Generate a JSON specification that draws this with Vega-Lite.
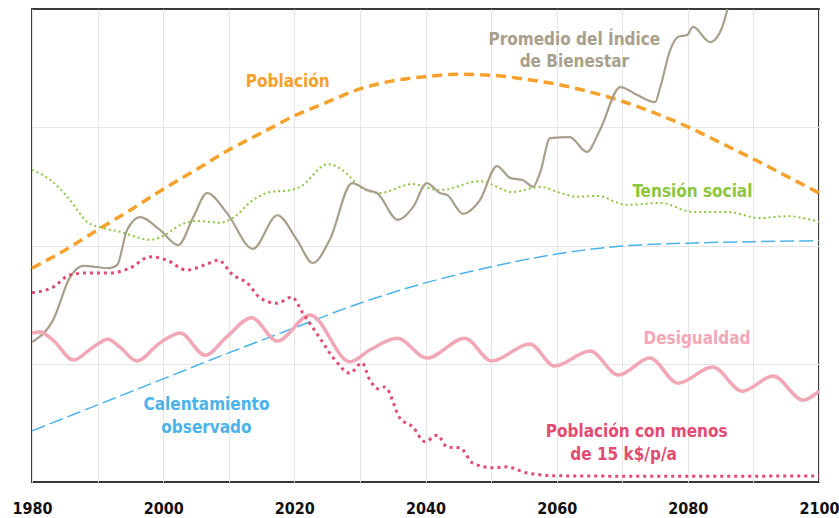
{
  "$schema": "https://vega.github.io/schema/vega-lite/v6.json",
  "width": 787,
  "height": 473,
  "autosize": {"type": "none"},
  "padding": {"left": 32, "top": 9, "right": 20, "bottom": 36},
  "background": "white",
  "config": {"view": {"stroke": "#3a3a3a", "strokeWidth": 2}, "font": "DejaVu Sans Condensed, Roboto, sans-serif"},
  "datasets": {
    "lines": [
      {"s": "pob", "year": 1980, "v": 45.2}, {"s": "pob", "year": 1985, "v": 49.0}, {"s": "pob", "year": 1990, "v": 53.3}, {"s": "pob", "year": 1995, "v": 57.5}, {"s": "pob", "year": 2000, "v": 61.9}, {"s": "pob", "year": 2005, "v": 66.0}, {"s": "pob", "year": 2010, "v": 70.2}, {"s": "pob", "year": 2015, "v": 73.8}, {"s": "pob", "year": 2020, "v": 77.4}, {"s": "pob", "year": 2025, "v": 80.3}, {"s": "pob", "year": 2030, "v": 83.1}, {"s": "pob", "year": 2035, "v": 84.8}, {"s": "pob", "year": 2040, "v": 85.7}, {"s": "pob", "year": 2045, "v": 86.2}, {"s": "pob", "year": 2050, "v": 86.0}, {"s": "pob", "year": 2055, "v": 85.2}, {"s": "pob", "year": 2060, "v": 84.1}, {"s": "pob", "year": 2065, "v": 82.5}, {"s": "pob", "year": 2070, "v": 80.5}, {"s": "pob", "year": 2075, "v": 78.0}, {"s": "pob", "year": 2080, "v": 75.1}, {"s": "pob", "year": 2085, "v": 71.7}, {"s": "pob", "year": 2090, "v": 68.3}, {"s": "pob", "year": 2095, "v": 64.7}, {"s": "pob", "year": 2100, "v": 61.1},

      {"s": "cal", "year": 1980, "v": 10.8}, {"s": "cal", "year": 1990, "v": 16.3}, {"s": "cal", "year": 2000, "v": 21.8}, {"s": "cal", "year": 2010, "v": 27.3}, {"s": "cal", "year": 2020, "v": 32.6}, {"s": "cal", "year": 2030, "v": 37.8}, {"s": "cal", "year": 2040, "v": 42.1}, {"s": "cal", "year": 2050, "v": 45.5}, {"s": "cal", "year": 2060, "v": 48.2}, {"s": "cal", "year": 2070, "v": 49.9}, {"s": "cal", "year": 2080, "v": 50.5}, {"s": "cal", "year": 2090, "v": 50.8}, {"s": "cal", "year": 2100, "v": 51.0},

      {"s": "ten", "year": 1980, "v": 66.0}, {"s": "ten", "year": 1983.2, "v": 63.4}, {"s": "ten", "year": 1985.8, "v": 59.6}, {"s": "ten", "year": 1988.4, "v": 55.0}, {"s": "ten", "year": 1990.8, "v": 53.7}, {"s": "ten", "year": 1993.4, "v": 52.9}, {"s": "ten", "year": 1998, "v": 51.2}, {"s": "ten", "year": 2000, "v": 52.0}, {"s": "ten", "year": 2002.6, "v": 54.3}, {"s": "ten", "year": 2005.2, "v": 55.2}, {"s": "ten", "year": 2008.7, "v": 54.8}, {"s": "ten", "year": 2010.6, "v": 55.8}, {"s": "ten", "year": 2013.7, "v": 59.6}, {"s": "ten", "year": 2016.3, "v": 61.3}, {"s": "ten", "year": 2019.4, "v": 61.7}, {"s": "ten", "year": 2020.9, "v": 62.4}, {"s": "ten", "year": 2025.1, "v": 67.2}, {"s": "ten", "year": 2028, "v": 65.2}, {"s": "ten", "year": 2030, "v": 62.4}, {"s": "ten", "year": 2033, "v": 61.1}, {"s": "ten", "year": 2038, "v": 63.0}, {"s": "ten", "year": 2042.2, "v": 61.7}, {"s": "ten", "year": 2048.3, "v": 63.6}, {"s": "ten", "year": 2053.3, "v": 61.3}, {"s": "ten", "year": 2057.5, "v": 62.4}, {"s": "ten", "year": 2060.6, "v": 61.1}, {"s": "ten", "year": 2063.1, "v": 60.3}, {"s": "ten", "year": 2066.1, "v": 60.5}, {"s": "ten", "year": 2070.7, "v": 58.6}, {"s": "ten", "year": 2075.8, "v": 59.0}, {"s": "ten", "year": 2080.8, "v": 57.1}, {"s": "ten", "year": 2086, "v": 57.1}, {"s": "ten", "year": 2091, "v": 55.8}, {"s": "ten", "year": 2095.1, "v": 56.2}, {"s": "ten", "year": 2100, "v": 55.0},

      {"s": "bien", "year": 1980, "v": 29.6}, {"s": "bien", "year": 1983.2, "v": 34.2}, {"s": "bien", "year": 1985.8, "v": 43.3}, {"s": "bien", "year": 1987.8, "v": 45.7}, {"s": "bien", "year": 1991.9, "v": 45.2}, {"s": "bien", "year": 1993, "v": 45.9}, {"s": "bien", "year": 1994.5, "v": 53.3}, {"s": "bien", "year": 1996.5, "v": 56.0}, {"s": "bien", "year": 1999.5, "v": 53.3}, {"s": "bien", "year": 2002.3, "v": 50.1}, {"s": "bien", "year": 2004.6, "v": 56.0}, {"s": "bien", "year": 2006.7, "v": 61.1}, {"s": "bien", "year": 2009.7, "v": 56.9}, {"s": "bien", "year": 2013.7, "v": 49.3}, {"s": "bien", "year": 2017.4, "v": 56.4}, {"s": "bien", "year": 2020.4, "v": 51.2}, {"s": "bien", "year": 2022.8, "v": 46.3}, {"s": "bien", "year": 2025.4, "v": 51.2}, {"s": "bien", "year": 2028.8, "v": 63.2}, {"s": "bien", "year": 2031.1, "v": 61.7}, {"s": "bien", "year": 2032.6, "v": 61.1}, {"s": "bien", "year": 2035.8, "v": 55.4}, {"s": "bien", "year": 2038.1, "v": 58.1}, {"s": "bien", "year": 2040.2, "v": 63.2}, {"s": "bien", "year": 2042.2, "v": 61.1}, {"s": "bien", "year": 2043.3, "v": 60.7}, {"s": "bien", "year": 2045.7, "v": 56.7}, {"s": "bien", "year": 2048.3, "v": 59.6}, {"s": "bien", "year": 2050.9, "v": 66.8}, {"s": "bien", "year": 2052.9, "v": 64.3}, {"s": "bien", "year": 2054.9, "v": 63.8}, {"s": "bien", "year": 2056.4, "v": 62.4}, {"s": "bien", "year": 2057.5, "v": 65.5}, {"s": "bien", "year": 2059, "v": 72.7}, {"s": "bien", "year": 2062, "v": 72.9}, {"s": "bien", "year": 2064.6, "v": 69.8}, {"s": "bien", "year": 2066.6, "v": 74.4}, {"s": "bien", "year": 2069.7, "v": 83.5}, {"s": "bien", "year": 2072.3, "v": 81.8}, {"s": "bien", "year": 2075, "v": 80.3}, {"s": "bien", "year": 2075.8, "v": 83.5}, {"s": "bien", "year": 2077.3, "v": 91.3}, {"s": "bien", "year": 2078.5, "v": 94.1}, {"s": "bien", "year": 2079.9, "v": 94.5}, {"s": "bien", "year": 2080.8, "v": 96.2}, {"s": "bien", "year": 2083.4, "v": 93.0}, {"s": "bien", "year": 2084.5, "v": 94.1}, {"s": "bien", "year": 2086, "v": 99.8}, {"s": "bien", "year": 2087.5, "v": 112},

      {"s": "des", "year": 1980, "v": 31.5}, {"s": "des", "year": 1981.2, "v": 31.7}, {"s": "des", "year": 1983.2, "v": 30.0}, {"s": "des", "year": 1986.3, "v": 25.8}, {"s": "des", "year": 1989.3, "v": 28.5}, {"s": "des", "year": 1991.6, "v": 30.2}, {"s": "des", "year": 1993.4, "v": 28.5}, {"s": "des", "year": 1996, "v": 25.6}, {"s": "des", "year": 1999.5, "v": 29.4}, {"s": "des", "year": 2002.6, "v": 31.5}, {"s": "des", "year": 2006.4, "v": 26.8}, {"s": "des", "year": 2009.7, "v": 30.7}, {"s": "des", "year": 2013.5, "v": 34.7}, {"s": "des", "year": 2017.4, "v": 29.8}, {"s": "des", "year": 2022.4, "v": 35.3}, {"s": "des", "year": 2028.5, "v": 25.4}, {"s": "des", "year": 2031.5, "v": 27.9}, {"s": "des", "year": 2035.7, "v": 30.4}, {"s": "des", "year": 2040.2, "v": 26.2}, {"s": "des", "year": 2046, "v": 30.4}, {"s": "des", "year": 2050.1, "v": 25.6}, {"s": "des", "year": 2055.9, "v": 29.2}, {"s": "des", "year": 2059.7, "v": 24.5}, {"s": "des", "year": 2065.1, "v": 27.7}, {"s": "des", "year": 2069.4, "v": 22.6}, {"s": "des", "year": 2074.2, "v": 26.2}, {"s": "des", "year": 2078.5, "v": 20.9}, {"s": "des", "year": 2083.8, "v": 24.3}, {"s": "des", "year": 2088.3, "v": 19.2}, {"s": "des", "year": 2093, "v": 22.4}, {"s": "des", "year": 2097.6, "v": 17.3}, {"s": "des", "year": 2100, "v": 19.2},

      {"s": "p15", "year": 1980, "v": 40.0}, {"s": "p15", "year": 1983.2, "v": 41.2}, {"s": "p15", "year": 1985.8, "v": 43.8}, {"s": "p15", "year": 1988.4, "v": 44.2}, {"s": "p15", "year": 1991.9, "v": 44.2}, {"s": "p15", "year": 1994.9, "v": 45.2}, {"s": "p15", "year": 1998, "v": 47.6}, {"s": "p15", "year": 2000.6, "v": 46.9}, {"s": "p15", "year": 2003.6, "v": 44.8}, {"s": "p15", "year": 2006.7, "v": 46.1}, {"s": "p15", "year": 2008.4, "v": 46.9}, {"s": "p15", "year": 2010.6, "v": 43.8}, {"s": "p15", "year": 2012.8, "v": 42.1}, {"s": "p15", "year": 2014.8, "v": 38.9}, {"s": "p15", "year": 2017.4, "v": 37.8}, {"s": "p15", "year": 2019.6, "v": 39.1}, {"s": "p15", "year": 2021.3, "v": 35.7}, {"s": "p15", "year": 2023.9, "v": 30.4}, {"s": "p15", "year": 2026.2, "v": 25.8}, {"s": "p15", "year": 2028.5, "v": 23.0}, {"s": "p15", "year": 2030.3, "v": 25.2}, {"s": "p15", "year": 2031.5, "v": 21.6}, {"s": "p15", "year": 2032.8, "v": 19.7}, {"s": "p15", "year": 2033.8, "v": 20.1}, {"s": "p15", "year": 2036.1, "v": 13.5}, {"s": "p15", "year": 2038.1, "v": 11.6}, {"s": "p15", "year": 2039.9, "v": 8.5}, {"s": "p15", "year": 2041.8, "v": 9.9}, {"s": "p15", "year": 2043.3, "v": 7.4}, {"s": "p15", "year": 2045.3, "v": 7.2}, {"s": "p15", "year": 2047.2, "v": 4.0}, {"s": "p15", "year": 2050.3, "v": 3.0}, {"s": "p15", "year": 2052.4, "v": 3.2}, {"s": "p15", "year": 2055.5, "v": 1.9}, {"s": "p15", "year": 2060.5, "v": 1.3}, {"s": "p15", "year": 2080, "v": 1.2}, {"s": "p15", "year": 2100, "v": 1.3}
    ],
    "labels": [
      {"s": "pob", "year": 2019.0, "v": 84.6, "t": "Población"},
      {"s": "bien", "year": 2062.7, "v": 93.4, "t": "Promedio del Índice"},
      {"s": "bien", "year": 2062.7, "v": 88.8, "t": "de Bienestar"},
      {"s": "ten", "year": 2080.7, "v": 61.3, "t": "Tensión social"},
      {"s": "des", "year": 2081.4, "v": 30.2, "t": "Desigualdad"},
      {"s": "cal", "year": 2006.6, "v": 16.3, "t": "Calentamiento"},
      {"s": "cal", "year": 2006.6, "v": 11.4, "t": "observado"},
      {"s": "p15", "year": 2072.2, "v": 10.6, "t": "Población con menos"},
      {"s": "p15", "year": 2070.2, "v": 5.7, "t": "de 15 k$/p/a"}
    ]
  },
  "data": {"name": "lines"},
  "encoding": {
    "x": {"field": "year", "type": "quantitative",
      "scale": {"domain": [1980, 2100], "nice": false, "zero": false},
      "axis": {"values": [1980, 1990, 2000, 2010, 2020, 2030, 2040, 2050, 2060, 2070, 2080, 2090, 2100],
        "labelExpr": "datum.value % 20 === 0 ? datum.label : ''", "format": "d", "title": null,
        "domain": false, "ticks": false, "grid": true, "gridColor": "#E6E6E6", "gridWidth": 1,
        "labelFont": "DejaVu Sans Condensed, Roboto, sans-serif", "labelFontWeight": "bold", "labelFontSize": 16, "labelColor": "#111111",
        "labelPadding": 18, "labelOverlap": false, "labelFlush": false, "labelBound": false}},
    "y": {"field": "v", "type": "quantitative",
      "scale": {"domain": [0, 100], "nice": false, "zero": false},
      "axis": {"values": [25, 50, 75], "labels": false, "ticks": false, "domain": false, "title": null,
        "grid": true, "gridColor": "#E6E6E6", "gridWidth": 1}},
    "color": {"field": "s", "type": "nominal",
      "scale": {"domain": ["pob", "bien", "ten", "cal", "des", "p15"],
        "range": ["#F5A12B", "#A89F8C", "#8CC63E", "#4BB3E8", "#F2A7B6", "#E24B72"]},
      "legend": null}
  },
  "layer": [
    {"transform": [{"filter": "datum.s === 'pob'"}], "mark": {"type": "line", "interpolate": "monotone", "strokeWidth": 3.5, "strokeDash": [10, 6]}},
    {"transform": [{"filter": "datum.s === 'ten'"}], "mark": {"type": "line", "interpolate": "monotone", "strokeWidth": 2, "strokeDash": [2, 3]}},
    {"transform": [{"filter": "datum.s === 'bien'"}], "mark": {"type": "line", "interpolate": "monotone", "strokeWidth": 2.2, "clip": true}},
    {"transform": [{"filter": "datum.s === 'cal'"}], "mark": {"type": "line", "interpolate": "monotone", "strokeWidth": 1.5, "strokeDash": [14, 5]}},
    {"transform": [{"filter": "datum.s === 'des'"}], "mark": {"type": "line", "interpolate": "monotone", "strokeWidth": 3.5}},
    {"transform": [{"filter": "datum.s === 'p15'"}], "mark": {"type": "line", "interpolate": "monotone", "strokeWidth": 3, "strokeDash": [3, 4]}},
    {"data": {"name": "labels"},
      "mark": {"type": "text", "font": "DejaVu Sans Condensed, Roboto, sans-serif", "fontWeight": "bold", "fontSize": 17, "align": "center", "baseline": "middle"},
      "encoding": {"text": {"field": "t", "type": "nominal"}}}
  ]
}
